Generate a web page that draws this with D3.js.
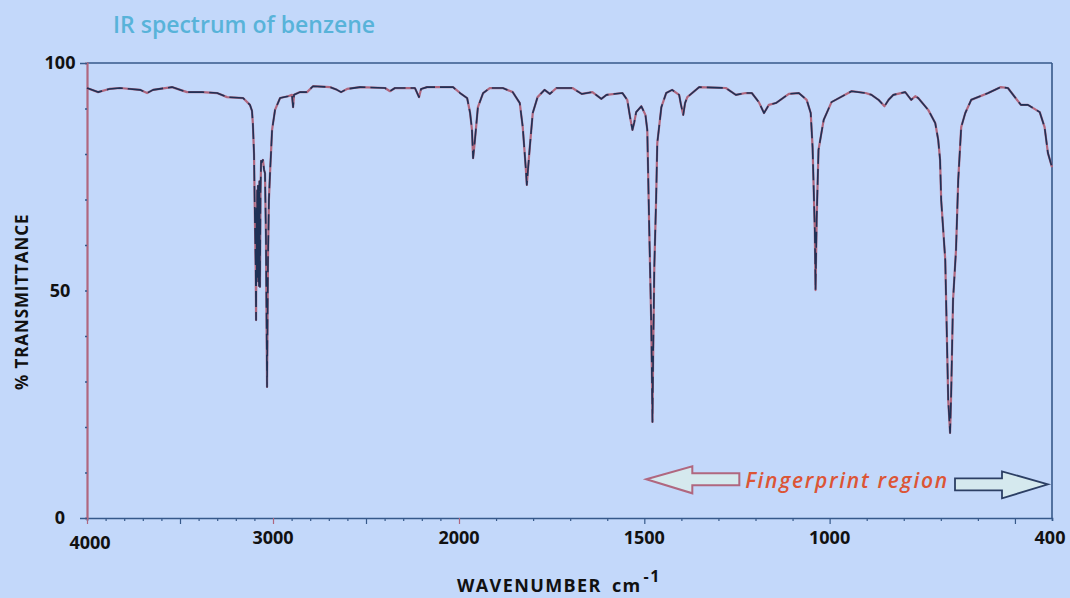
<!DOCTYPE html>
<html lang="en">
<head>
<meta charset="UTF-8">
<title>IR spectrum of benzene</title>
<style>
  html, body { margin: 0; padding: 0; background: #c3d8fa; overflow: hidden; }
  svg { display: block; }
</style>
</head>
<body>
<svg width="1070" height="598" id="svg"></svg>
<script src="https://d3js.org/d3.v7.min.js"></script>
<script>
// wavenumber (cm-1) and % transmittance
const wavenumbers = [4000, 3941, 3880, 3823, 3715, 3677, 3645, 3543, 3462, 3380, 3301, 3247, 3161, 3124, 3113, 3108, 3102, 3097, 3093, 3091,
  3089, 3087, 3085, 3083, 3081, 3079, 3077, 3075, 3073, 3070, 3067, 3064, 3059, 3054, 3048, 3043, 3038, 3032, 3029, 3027,
  3022, 3016, 3011, 3005, 2989, 2962, 2919, 2898, 2892, 2887, 2855, 2817, 2785, 2694, 2656, 2634, 2602, 2532, 2398, 2371,
  2344, 2237, 2215, 2204, 2172, 2032, 1997, 1978, 1970, 1965, 1962, 1957, 1949, 1935, 1917, 1882, 1855, 1836, 1828, 1820,
  1817, 1815, 1809, 1801, 1788, 1769, 1755, 1737, 1694, 1669, 1640, 1616, 1602, 1559, 1546, 1538, 1532, 1527, 1522, 1508,
  1497, 1492, 1487, 1481, 1478, 1476, 1473, 1468, 1465, 1454, 1441, 1425, 1406, 1401, 1395, 1390, 1384, 1352, 1280, 1253,
  1226, 1210, 1191, 1177, 1164, 1145, 1110, 1083, 1062, 1051, 1046, 1040, 1038, 1035, 1030, 1016, 995, 941, 903, 887,
  868, 852, 841, 828, 796, 780, 769, 761, 734, 715, 707, 702, 699, 688, 680, 675, 672, 667, 659, 653,
  645, 634, 618, 572, 538, 519, 484, 465, 433, 420, 411, 400]
const transmittance = [94.5, 93.6, 94.3, 94.5, 94.1, 93.4, 94.1, 94.7, 93.6, 93.6, 93.4, 92.5, 92.3, 90.8, 89.5, 86.5, 80, 64.8, 55, 43.5,
  68, 54, 72, 53, 73, 52, 72, 51, 74, 50.8, 72, 78.5, 78.2, 78.7, 76.5, 75.8, 62, 28.8, 45, 56.7,
  69.9, 75.8, 80, 85.3, 89.7, 92.3, 92.7, 93, 90.3, 93, 93.6, 93.6, 94.9, 94.7, 94.1, 93.6, 94.3, 94.7, 94.5, 93.8,
  94.5, 94.5, 92.5, 94.3, 94.7, 94.7, 93.4, 92.3, 89.0, 85.3, 79.1, 83.1, 90.3, 93.4, 94.5, 94.5, 93.6, 91.2, 85.9, 77.1,
  73.2, 75.4, 81.5, 89, 92.5, 94.1, 93.2, 94.5, 94.5, 93.2, 93.6, 92.1, 93, 93.4, 91.9, 87.9, 85.3, 87.0, 89.2, 90.5,
  88.6, 85.3, 64.8, 41.3, 21.1, 36.9, 55.2, 70.5, 82.4, 90.3, 93.4, 94.1, 93, 90.8, 88.6, 91.2, 92.5, 94.7, 94.5, 93,
  93.4, 93.4, 91.4, 89, 90.8, 91.2, 93.2, 93.4, 91.9, 89, 81.5, 63.3, 50.1, 65.5, 80.9, 87.5, 91.4, 93.8, 93.4, 93,
  91.9, 90.5, 91.9, 93, 93.6, 91.9, 92.7, 92.3, 89.7, 86.8, 83.1, 78.7, 69.9, 56.7, 25.9, 18.7, 27.5, 47.9, 58.9, 74.3,
  85.9, 89, 91.9, 93.4, 94.7, 94.5, 90.8, 90.8, 89.2, 85.9, 80.2, 77.1]

const xTickLabels = [4000, 3000, 2000, 1500, 1000, 400]
const yTickLabels = [0, 50, 100]
// the chart paper changes scale at 2000 cm-1
const xBreaks = [4000, 2000, 400]

const data = wavenumbers.map((w, i) => ({ w: w, t: transmittance[i] }))

const svg = d3.select("svg#svg")
const padding = { top: 63, bottom: 80, left: 87, right: 18 }
const width = +svg.attr("width")
const height = +svg.attr("height")
const innerWidth = width - padding.left - padding.right
const innerHeight = height - padding.top - padding.bottom

const xScale = d3.scaleLinear().domain(xBreaks).range([0, innerWidth * 372 / 965, innerWidth])
const yScale = d3.scaleLinear().domain([0, 100]).range([innerHeight, 0])

const g = svg.append("g").attr("transform", `translate(${padding.left},${padding.top})`)

const blue = "#36598a"
const pink = "#b0677f"
const labelFont = "'Open Sans', sans-serif"

// frame
g.append("line").attr("x1", 0).attr("x2", innerWidth).attr("y1", 0).attr("y2", 0).attr("stroke", blue).attr("stroke-width", 1.6)
g.append("line").attr("x1", innerWidth).attr("x2", innerWidth).attr("y1", 0).attr("y2", innerHeight).attr("stroke", blue).attr("stroke-width", 1.6)

// x axis: minor tick every 100, longer ones every 500
const minorTicks = d3.range(400, 4001, 100)
const xAxis = d3.axisBottom(xScale).tickValues(minorTicks).tickSize(3).tickFormat("")
const xg = g.append("g").attr("transform", `translate(0,${innerHeight})`).call(xAxis)
xg.selectAll("text").remove()
xg.select(".domain").attr("stroke", blue).attr("stroke-width", 1.6)
xg.selectAll(".tick line").attr("stroke", blue).attr("stroke-width", 1.2)
  .attr("y2", d => d % 500 === 0 ? 6 : 3)
  .filter(d => d === 3000 || d === 2000 || d === 4000).attr("stroke", pink)

g.selectAll(".xlabel").data(xTickLabels).join("text")
  .attr("class", "xlabel")
  .attr("x", d => d === 4000 ? xScale(d) + 3 : (d === 400 ? xScale(d) - 2 : xScale(d)))
  .attr("y", d => d === 4000 ? innerHeight + 31 : innerHeight + 26)
  .attr("text-anchor", "middle")
  .attr("font-family", labelFont).attr("font-weight", "bold").attr("font-size", 18)
  .attr("fill", "#111")
  .text(d => d)

// y axis: left edge of the paper
const yAxis = d3.axisLeft(yScale).tickValues(d3.range(0, 101, 10)).tickSize(2).tickFormat("")
const yg = g.append("g").call(yAxis)
yg.selectAll("text").remove()
yg.select(".domain").attr("stroke", pink).attr("stroke-width", 2.2)
yg.selectAll(".tick line").attr("stroke", blue).attr("stroke-width", 1.5)
  .attr("x2", d => d === 100 || d === 0 ? -7 : -2)

g.selectAll(".ylabel").data(yTickLabels).join("text")
  .attr("class", "ylabel")
  .attr("x", -27)
  .attr("y", d => yScale(d))
  .attr("dy", "0.36em")
  .attr("text-anchor", "middle")
  .attr("font-family", labelFont).attr("font-weight", "bold").attr("font-size", 18)
  .attr("fill", "#111")
  .text(d => d)

// spectrum trace: pink underneath with dark blue dashes, like the scanned pen trace
const line = d3.line().x(d => xScale(d.w)).y(d => yScale(d.t))
g.append("path").datum(data).attr("d", line)
  .attr("fill", "none").attr("stroke", pink).attr("stroke-width", 2.2).attr("stroke-linejoin", "round")
g.append("path").datum(data).attr("d", line)
  .attr("fill", "none").attr("stroke", "#1f3156").attr("stroke-width", 1.6)
  .attr("stroke-dasharray", "16 5").attr("stroke-linejoin", "round")

// titles
svg.append("text").attr("x", 113).attr("y", 33)
  .attr("font-family", labelFont).attr("font-weight", 600).attr("font-size", 23)
  .attr("fill", "#58b3d9").text("IR spectrum of benzene")

svg.append("text")
  .attr("transform", `translate(28,${padding.top + innerHeight * 0.525}) rotate(-90)`)
  .attr("text-anchor", "middle")
  .attr("font-family", labelFont).attr("font-weight", "bold").attr("font-size", 17)
  .attr("letter-spacing", 0.9)
  .attr("fill", "#111").text("% TRANSMITTANCE")

const xt = svg.append("text").attr("x", 457).attr("y", 592)
  .attr("font-family", labelFont).attr("font-weight", "bold").attr("font-size", 18)
  .attr("letter-spacing", 1.4)
  .attr("fill", "#111")
xt.append("tspan").text("WAVENUMBER")
xt.append("tspan").attr("dx", 10).text("cm")
xt.append("tspan").attr("dy", -10).attr("dx", 2).attr("font-size", 16).text("-1")

// fingerprint region annotation: arrows span 1500 -> 400 cm-1
const ay = yScale(8.5)
const arrowFill = "#d5e9ee"
const tipL = xScale(1500) + 2, tipR = xScale(400) - 4
g.append("path")
  .attr("d", `M${tipL},${ay} L${tipL + 46},${ay - 13} L${tipL + 46},${ay - 6} L${tipL + 93},${ay - 6} L${tipL + 93},${ay + 6} L${tipL + 46},${ay + 6} L${tipL + 46},${ay + 14} Z`)
  .attr("fill", arrowFill).attr("stroke", pink).attr("stroke-width", 2)
g.append("path")
  .attr("d", `M${tipR},${ay + 5} L${tipR - 46},${ay - 8} L${tipR - 46},${ay - 1} L${tipR - 93},${ay - 1} L${tipR - 93},${ay + 11} L${tipR - 46},${ay + 11} L${tipR - 46},${ay + 19} Z`)
  .attr("fill", arrowFill).attr("stroke", "#2c3f64").attr("stroke-width", 1.8)
g.append("text")
  .attr("x", xScale(1500) + 101).attr("y", ay + 9)
  .attr("font-family", labelFont).attr("font-style", "italic").attr("font-weight", 600).attr("font-size", 21)
  .attr("letter-spacing", 1.7)
  .attr("fill", "#dc5535").text("Fingerprint region")
</script>
</body>
</html>
